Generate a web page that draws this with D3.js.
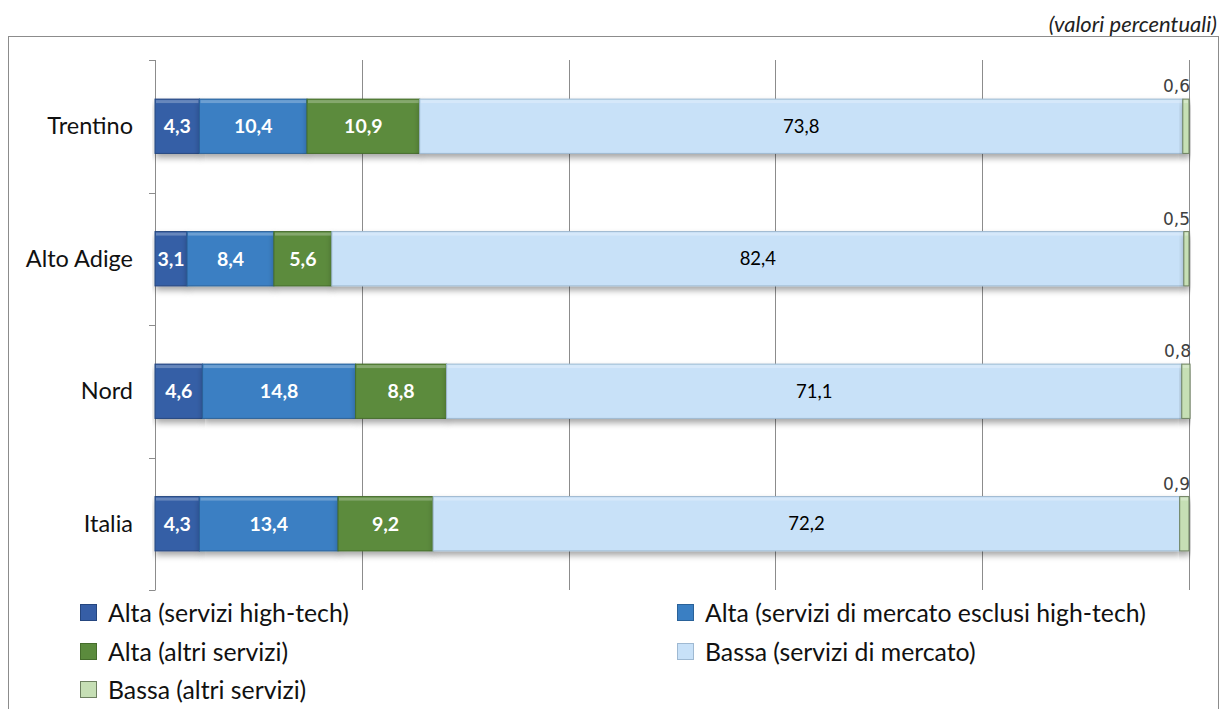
<!DOCTYPE html>
<html>
<head>
<meta charset="utf-8">
<script src="https://cdn.jsdelivr.net/npm/d3@7"></script>
<style>
  body { margin: 0; background: #fff; }
  text { font-family: Lato, "Open Sans", sans-serif; }
</style>
</head>
<body>
<div id="chart"></div>
<script>
// data
var regions = ["Trentino", "Alto Adige", "Nord", "Italia"];
var series = ["Alta (servizi high-tech)", "Alta (servizi di mercato esclusi high-tech)",
              "Alta (altri servizi)", "Bassa (servizi di mercato)", "Bassa (altri servizi)"];
var altaHighTech = [4.3, 3.1, 4.6, 4.3];
var altaMercato  = [10.4, 8.4, 14.8, 13.4];
var altaAltri    = [10.9, 5.6, 8.8, 9.2];
var bassaMercato = [73.8, 82.4, 71.1, 72.2];
var bassaAltri   = [0.6, 0.5, 0.8, 0.9];
var xTicks = [0, 20, 40, 60, 80, 100];

var colors = ["#365ea6", "#3a7fc3", "#5b8b3d", "#c8e1f8", "#c6dfb5"];
var strokes = ["#25467f", "#2a6299", "#456d2c", "#9fb9d2", "#6d8060"];
var labelColors = ["#fff", "#fff", "#fff", "#000", "#404040"];

var W = 1220, H = 709;
var svg = d3.select("#chart").append("svg")
    .attr("width", W)
    .attr("height", H);

var defs = svg.append("defs");
var shadow = defs.append("filter").attr("id", "shadow")
    .attr("x", "-5%").attr("y", "-20%").attr("width", "110%").attr("height", "160%");
shadow.append("feDropShadow")
    .attr("dx", 1).attr("dy", 4).attr("stdDeviation", 3)
    .attr("flood-color", "#000").attr("flood-opacity", 0.35);

// outer frame
svg.append("rect")
    .attr("x", 8.5).attr("y", 36.5)
    .attr("width", 1210).attr("height", 700)
    .attr("fill", "none")
    .attr("stroke", "#8c8c8c");

svg.append("text")
    .attr("x", 1217)
    .attr("y", 32)
    .attr("text-anchor", "end")
    .style("font-size", "22px")
    .style("font-style", "italic")
    .attr("fill", "#222")
    .text("(valori percentuali)");

var margin = {top: 60, left: 155},
    width = 1189 - 155,
    height = 590 - 60;

var g = svg.append("g")
    .attr("transform", "translate(" + margin.left + "," + margin.top + ")");

var x = d3.scaleLinear().domain([0, 100]).range([0, width]);
var y = d3.scaleBand().domain(regions).range([0, height]).paddingInner(0.59).paddingOuter(0.295);

// grid lines
g.selectAll(".grid")
    .data(xTicks.slice(1))
    .enter().append("line")
    .attr("x1", function(d) { return Math.round(x(d)) + 0.5; })
    .attr("x2", function(d) { return Math.round(x(d)) + 0.5; })
    .attr("y1", 0)
    .attr("y2", height)
    .attr("stroke", "#8c8c8c");

// category axis: ticks at band boundaries
var bounds = d3.range(regions.length + 1).map(function(i) { return i * height / regions.length; });
g.append("line")
    .attr("x1", 0.5).attr("x2", 0.5)
    .attr("y1", 0).attr("y2", height)
    .attr("stroke", "#8c8c8c");
g.selectAll(".tick")
    .data(bounds)
    .enter().append("line")
    .attr("x1", -6).attr("x2", 0.5)
    .attr("y1", function(d) { return Math.round(d) + 0.5; })
    .attr("y2", function(d) { return Math.round(d) + 0.5; })
    .attr("stroke", "#8c8c8c");

g.selectAll(".cat")
    .data(regions)
    .enter().append("text")
    .attr("x", -22)
    .attr("y", function(d) { return y(d) + y.bandwidth() / 2; })
    .attr("dy", "0.35em")
    .attr("text-anchor", "end")
    .style("font-size", "23.5px")
    .attr("fill", "#111")
    .text(function(d) { return d; });

// stacked rows
var values = [altaHighTech, altaMercato, altaAltri, bassaMercato, bassaAltri];
var rows = regions.map(function(r, i) {
  var row = {region: r};
  series.forEach(function(s, j) { row[s] = values[j][i]; });
  return row;
});
var stack = d3.stack().keys(series)(rows);
var fmt = function(v) { return String(v.toFixed(1)).replace(".", ","); };

var layers = g.selectAll(".layer")
    .data(stack)
    .enter().append("g")
    .attr("filter", "url(#shadow)");

layers.each(function(layer, j) {
  d3.select(this).selectAll("rect")
    .data(layer)
    .enter().append("rect")
    .attr("x", function(d) { return x(d[0]); })
    .attr("y", function(d) { return y(d.data.region); })
    .attr("width", function(d) { return x(d[1]) - x(d[0]); })
    .attr("height", y.bandwidth())
    .attr("fill", colors[j])
    .attr("stroke", strokes[j])
    .attr("stroke-width", 1);
});

// highlight on top edge for bevel look
stack.forEach(function(layer, j) {
  g.selectAll(".hl" + j)
    .data(layer)
    .enter().append("rect")
    .attr("x", function(d) { return x(d[0]) + 1; })
    .attr("y", function(d) { return y(d.data.region) + 1; })
    .attr("width", function(d) { return Math.max(0, x(d[1]) - x(d[0]) - 2); })
    .attr("height", 3)
    .attr("fill", "#fff")
    .attr("opacity", 0.25);
});

// labels
stack.forEach(function(layer, j) {
  var last = j === series.length - 1;
  g.selectAll(".lbl" + j)
    .data(layer)
    .enter().append("text")
    .attr("x", function(d) { return last ? x(d[1]) + 1 : (x(d[0]) + x(d[1])) / 2; })
    .attr("y", function(d) { return last ? y(d.data.region) - 7 : y(d.data.region) + y.bandwidth() / 2; })
    .attr("dy", last ? "0" : "0.35em")
    .attr("text-anchor", last ? "end" : "middle")
    .style("font-family", last ? "'DejaVu Sans', sans-serif" : null)
    .style("font-size", last ? "17px" : (j < 3 ? "19.5px" : "18.5px"))
    .style("font-weight", j < 3 ? "bold" : "normal")
    .attr("fill", labelColors[j])
    .text(function(d) { return fmt(d[1] - d[0]); });
});

// legend
var legendPos = [[80, 613], [677, 613], [80, 652], [677, 652], [80, 690]];
var legend = svg.selectAll(".legend")
    .data(series)
    .enter().append("g")
    .attr("transform", function(d, i) { return "translate(" + legendPos[i][0] + "," + legendPos[i][1] + ")"; });
legend.append("rect")
    .attr("x", 0.5).attr("y", -8.5)
    .attr("width", 16).attr("height", 16)
    .attr("fill", function(d, i) { return colors[i]; })
    .attr("stroke", function(d, i) { return strokes[i]; });
legend.append("text")
    .attr("x", 28)
    .attr("y", 0)
    .attr("dy", "0.35em")
    .style("font-size", "24.8px")
    .attr("fill", "#111")
    .text(function(d) { return d; });
</script>
</body>
</html>
